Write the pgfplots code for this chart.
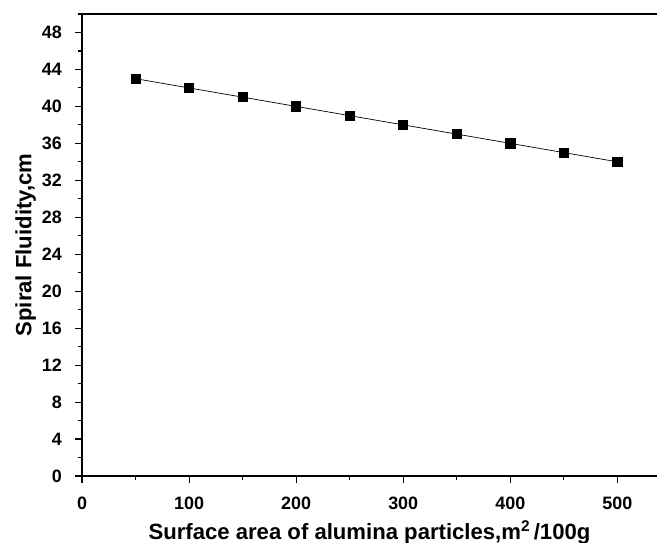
\documentclass[border=0pt]{standalone}
\usepackage{pgfplots}
\pgfplotsset{compat=1.18}
\usepackage{fontspec}
\setmainfont{Liberation Sans}
\begin{document}
\begin{tikzpicture}
\begin{axis}[
  name=ax,
  at={(0,0)}, anchor=south west,
  scale only axis,
  width=575bp, height=462bp,
  xmin=0, xmax=537, ymin=0, ymax=50,
  axis x line*=bottom, axis y line*=left,
  axis line style={-, line width=1.1pt},
  tick align=outside,
  xtick={0,100,...,500}, minor xtick={50,150,...,450},
  ytick={0,4,...,48}, minor ytick={2,6,...,50},
  major tick length=7bp, minor tick length=4bp,
  tick style={line width=1.1pt, black},
  /pgf/number format/assume math mode=true,
  ticklabel style={font=\fontsize{18}{20}\selectfont\bfseries, inner sep=0pt},
  xticklabel style={anchor=base, yshift=-26bp},
  yticklabel style={anchor=east, xshift=-13bp},
  xlabel={Surface area of alumina particles,m\textsuperscript{2}\,/100g},
  ylabel={Spiral Fluidity,cm},
  label style={font=\fontsize{22.2}{25}\selectfont\bfseries, inner sep=0pt},
  xlabel style={at={(axis description cs:0.5,-0.1364)}, anchor=base},
  ylabel style={at={(axis description cs:-0.098,0.5)}, anchor=center},
  clip=false,
]
\addplot[black, line width=0.7pt, mark=square*, mark size=4.6bp] coordinates {
(50,43) (100,42) (150,41) (200,40) (250,39) (300,38) (350,37) (400,36) (450,35) (500,34)
};
\draw[line width=1.1pt] (rel axis cs:0,1) -- (rel axis cs:1,1);
\end{axis}
\pgfresetboundingbox
\path (-82bp,-67bp) rectangle (575bp,476bp);
\end{tikzpicture}
\end{document}
